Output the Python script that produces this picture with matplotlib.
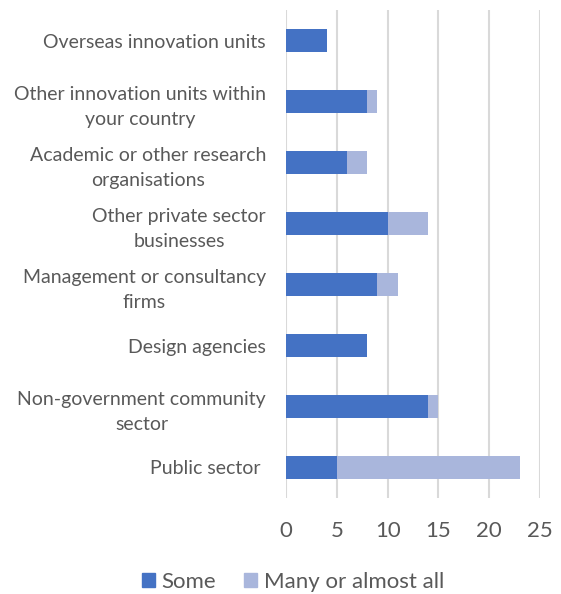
import matplotlib
matplotlib.use("Agg")
import matplotlib.pyplot as plt
from matplotlib.patches import Patch

plt.rcParams['font.family'] = ['Lato', 'DejaVu Sans']

categories = ["Overseas innovation units",
              "Other innovation units within\nyour country",
              "Academic or other research\norganisations",
              "Other private sector\nbusinesses",
              "Management or consultancy\nfirms",
              "Design agencies",
              "Non-government community\nsector",
              "Public sector "]
some = [4, 8, 6, 10, 9, 8, 14, 5]
many = [0, 1, 2, 4, 2, 0, 1, 18]
series_names = ["Some", "Many or almost all"]
xticks = [0, 5, 10, 15, 20, 25]

c_some = "#4472C4"
c_many = "#A9B6DC"
text_c = "#595959"

fig = plt.figure(figsize=(5.61, 5.94), dpi=100)
ax = fig.add_axes([286/561, 1-498/594, (540-286)/561, (498-10)/594])

y = list(range(len(categories)))
h = 0.39
ax.barh(y, some, height=h, color=c_some, zorder=3)
ax.barh(y, many, left=some, height=h, color=c_many, zorder=3)

ax.set_ylim(len(categories) - 0.5, -0.5)
ax.set_xlim(0, 25)
ax.set_xticks(xticks)
ax.set_yticks(y)
ax.set_yticklabels(categories, ha='right', multialignment='center', fontsize=14,
                   color=text_c, linespacing=1.55)
ax.tick_params(axis='y', length=0, pad=14.4)
ax.tick_params(axis='x', length=0, pad=16.5, labelsize=16, labelcolor=text_c)
ax.grid(axis='x', color='#D9D9D9', linewidth=1.5, zorder=0)
for s in ax.spines.values():
    s.set_visible(False)

handles = [Patch(color=c_some), Patch(color=c_many)]
fig.legend(handles, series_names, loc='center', bbox_to_anchor=(293/561, 1-582/594),
           ncol=2, frameon=False, fontsize=16, labelcolor=text_c,
           handlelength=0.6, handleheight=0.6, handletextpad=0.3, columnspacing=1.25)

fig.savefig("out.png", dpi=100)
